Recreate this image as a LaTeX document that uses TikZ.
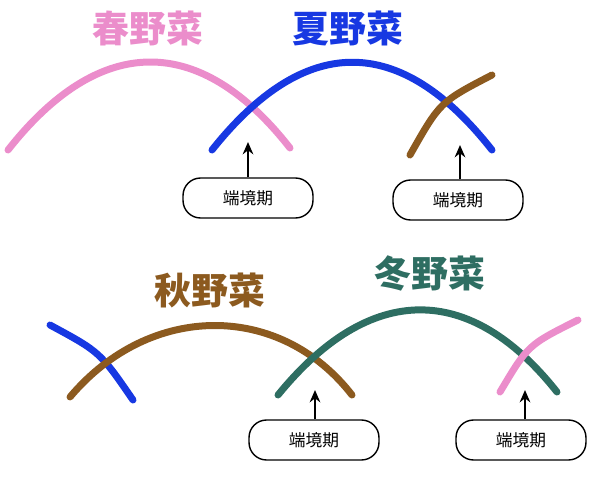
\documentclass[tikz,border=0pt]{standalone}
\usepackage{fontspec}
\setmainfont{Noto Sans CJK JP}
\usetikzlibrary{arrows.meta}
\definecolor{harupink}{HTML}{EB8DCB}
\definecolor{natsublue}{HTML}{1738E2}
\definecolor{akibrown}{HTML}{8C5A1F}
\definecolor{fuyugreen}{HTML}{2E6E62}
\tikzset{
  season/.style={font=\fontsize{21}{25}\selectfont\bfseries},
  crayon/.style={line width=7pt*0.02/0.0352, line cap=round},
  gapbox/.style={draw, thick, rounded corners=10pt, minimum width=2.6cm, minimum height=0.8cm, font=\fontsize{9.5}{11}\selectfont},
  uparrow/.style={-{Stealth[length=7pt,width=6pt]}, line width=1.2pt}
}
\begin{document}
\begin{tikzpicture}[x=0.02cm,y=-0.02cm]
        \useasboundingbox (0,0) rectangle (600,481);

        %season titles
        \node[season, text=harupink] (haru) at (148,28) {春野菜};
        \node[season, text=natsublue] (natsu) at (348,28) {夏野菜};
        \node[season, text=akibrown] (aki) at (210,290) {秋野菜};
        \node[season, text=fuyugreen] (fuyu) at (430,273) {冬野菜};

        %upper row arcs
        \draw[crayon, harupink] (8,150) .. controls (100,33) and (200,33) .. (290,148);
        \draw[crayon, natsublue] (212,150) .. controls (305,33) and (400,33) .. (492,150);
        \draw[crayon, akibrown] (410,155) .. controls (440,102) .. (492,75);

        %lower row arcs
        \draw[crayon, natsublue] (50,325) .. controls (100,352) .. (133,400);
        \draw[crayon, akibrown] (70,397) .. controls (150,302) and (280,302) .. (352,395);
        \draw[crayon, fuyugreen] (278,395) .. controls (370,282) and (470,282) .. (557,392);
        \draw[crayon, harupink] (500,392) .. controls (528,345) .. (578,320);

        %gap periods
        \node[gapbox] (gap1) at (248,198) {端境期};
        \node[gapbox] (gap2) at (458,200) {端境期};
        \node[gapbox] (gap3) at (314,440) {端境期};
        \node[gapbox] (gap4) at (521,440) {端境期};

        \coordinate (cross1) at (248,142);
        \coordinate (cross2) at (460,145);
        \coordinate (cross3) at (315,390);
        \coordinate (cross4) at (525,390);
        \draw[uparrow] (gap1.north -| cross1) -- (cross1);
        \draw[uparrow] (gap2.north -| cross2) -- (cross2);
        \draw[uparrow] (gap3.north -| cross3) -- (cross3);
        \draw[uparrow] (gap4.north -| cross4) -- (cross4);
\end{tikzpicture}
\end{document}
